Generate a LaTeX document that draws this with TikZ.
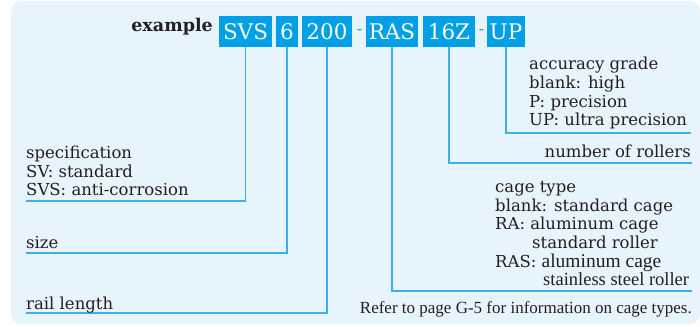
\documentclass[tikz,border=0pt]{standalone}
\usepackage{fontspec}
\setmainfont{DejaVu Serif}
\newfontfamily\narrowfont{Liberation Serif}
\usetikzlibrary{positioning}
\definecolor{bgblue}{HTML}{E8F4FC}
\definecolor{boxblue}{HTML}{00A0E9}
\definecolor{leadblue}{HTML}{3AAFEA}
\definecolor{inkgray}{HTML}{231F20}
\begin{document}
\begin{tikzpicture}[x=1pt,y=-1pt]

\tikzset{
  code/.style  = {fill=boxblue, text=white, inner sep=0pt, minimum height=31pt,
                  font=\fontsize{21.5}{24}\selectfont},
  hyph/.style  = {text=boxblue, inner sep=0pt, font=\fontsize{16}{18}\selectfont},
  lbl/.style   = {text=inkgray, inner sep=0pt, align=left,
                  font=\fontsize{16.5}{18.7}\selectfont},
  lblb/.style  = {lbl, text depth=0pt, anchor=south west},
  lead/.style  = {draw=leadblue, line width=1.5pt},
  note/.style  = {text=inkgray, inner sep=0pt, font=\narrowfont\fontsize{17}{19}\selectfont},
}

\useasboundingbox (0,0) rectangle (700,326);
\fill[bgblue, rounded corners=10pt] (11,1) rectangle (700,324);

\node[text=inkgray, inner sep=0pt, anchor=base east, font=\bfseries\fontsize{17.5}{19}\selectfont] (ex) at (213,32) {example};
\node[code, minimum width=53pt] (svs) at (245.5,31.5) {SVS};
\node[code, minimum width=22pt] (six) at (287,31.5) {6};
\node[code, minimum width=50pt] (len) at (327,31.5) {200};
\node[hyph] (d1) at (359.5,32) {-};
\node[code, minimum width=52pt] (ras) at (392,31.5) {RAS};
\node[code, minimum width=52pt] (rol) at (449,31.5) {16Z};
\node[hyph] (d2) at (481.5,32) {-};
\node[code, minimum width=38pt] (up) at (506,31.5) {UP};

\coordinate (accEnd) at (691,133);
\coordinate (rolEnd) at (692,163);
\coordinate (cageEnd) at (692,291);
\coordinate (specEnd) at (26,201);
\coordinate (sizeEnd) at (26,253);
\coordinate (railEnd) at (26,313);

\draw[lead] (up.south) |- (accEnd);
\draw[lead] (rol.south) |- (rolEnd);
\draw[lead] (ras.south) |- (cageEnd);
\draw[lead] (svs.south) |- (specEnd);
\draw[lead] (six.south) |- (sizeEnd);
\draw[lead] (len.south) |- (railEnd);

\node[lblb] (acc) at (529,126) {accuracy grade\\ blank: high\\ P: precision\\ UP: ultra precision};
\node[lbl, anchor=base east] (nrol) at (691,157) {number of rollers};
\node[lblb] (cage) at (495,286) {cage type\\ blank: standard cage\\ RA: aluminum cage\\ \hspace*{37pt}standard roller\\ RAS: {\narrowfont\fontsize{19.5}{18.7}\selectfont aluminum cage}\\ \hspace*{48pt}{\narrowfont\fontsize{18.5}{18.7}\selectfont stainless steel roller}};
\node[lblb] (spec) at (26,196) {specification\\ SV: standard\\ SVS: anti-corrosion};
\node[lbl, anchor=base west] (size) at (26,248) {size};
\node[lbl, anchor=base west] (rail) at (26,309) {rail length};
\node[note, anchor=base east] (ref) at (692,313) {Refer to page G-5 for information on cage types.};
\end{tikzpicture}
\end{document}
